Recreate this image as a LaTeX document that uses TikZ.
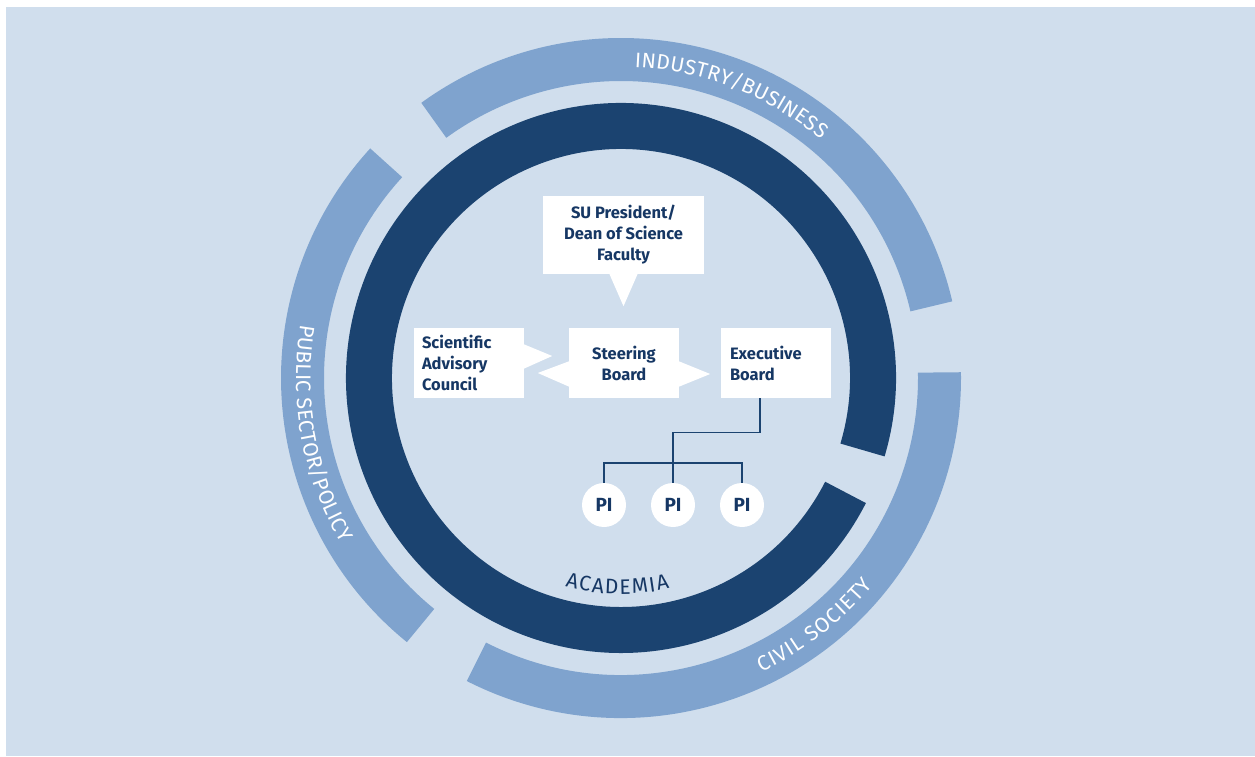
\documentclass[tikz,border=0pt]{standalone}
\usepackage{fontspec}
\setmainfont{Fira Sans}
\usetikzlibrary{decorations.text,calc}
\definecolor{bgblue}{RGB}{208,222,237}
\definecolor{lightarc}{RGB}{127,163,206}
\definecolor{darkring}{RGB}{27,67,112}
\definecolor{navytext}{RGB}{22,55,100}
\newcommand\myarcfont{\fontsize{21}{21}\selectfont}
\begin{document}
\begin{tikzpicture}[x=1pt,y=1pt,
  box/.style={fill=white, inner sep=0pt, minimum width=110pt, minimum height=70pt,
    font=\fontsize{16.5}{21}\selectfont\bfseries, text=navytext},
  pinode/.style={circle, fill=white, minimum size=44pt, inner sep=0pt,
    font=\fontsize{19}{19}\selectfont\bfseries, text=navytext},
  conn/.style={draw=darkring, line width=1.4pt},
  outerarc/.style={draw=lightarc, line width=43pt},
  innerring/.style={draw=darkring, line width=46pt},
  arctext/.style={decorate, decoration={text along path, text align={fit to path}}},
  pointer/.style={fill=white}
]
\useasboundingbox (0,0) rectangle (1255,756);
\fill[bgblue] (6,0) rectangle (1255,749);
\coordinate (C) at (621,378);
% outer light arcs
\draw[outerarc] ([shift={(13:318.5)}]C) arc[start angle=13, end angle=126, radius=318.5];
\draw[outerarc] ([shift={(137.5:318.5)}]C) arc[start angle=137.5, end angle=231, radius=318.5];
\draw[outerarc] ([shift={(-117:318.5)}]C) arc[start angle=-117, end angle=1, radius=318.5];
% dark ring
\draw[innerring] ([shift={(-16.6:252)}]C) arc[start angle=-16.6, end angle=333, radius=252];
% arc texts
\path[arctext, decoration={text={|\myarcfont\color{white}|INDUSTRY/BUSINESS}}]
  ([shift={(87.5:311)}]C) arc[start angle=87.5, end angle=50, radius=311];
\path[arctext, decoration={text={|\myarcfont\color{white}|PUBLIC SECTOR/POLICY}}]
  ([shift={(170.5:325)}]C) arc[start angle=170.5, end angle=210.5, radius=325];
\path[arctext, decoration={text={|\myarcfont\color{white}|CIVIL SOCIETY}}]
  ([shift={(-64.5:326)}]C) arc[start angle=-64.5, end angle=-39.5, radius=326];
\path[arctext, decoration={text={|\myarcfont\color{navytext}|ACADEMIA}}]
  ([shift={(-105:216)}]C) arc[start angle=-105, end angle=-77, radius=216];
% boxes
\node[box, minimum width=161pt, minimum height=78pt, align=center] (pres) at (623.5,521)
  {SU President/\\Dean of Science\\Faculty};
\node[box, text width=94pt, inner xsep=8pt, align=left] (sac) at (469,393)
  {Scientific\\Advisory\\Council};
\node[box, align=center] (steer) at (624,393) {Steering\\Board};
\node[box, text width=92pt, inner xsep=9pt, align=left] (exec) at (776,393)
  {Executive\\Board};
% pointers
\fill[pointer] ($(pres.south)+(-14,0)$) -- ($(pres.south)+(0,-32)$) -- ($(pres.south)+(14,0)$) -- cycle;
\fill[pointer] ($(sac.east)+(-1,19)$) -- ($(sac.east)+(28,7)$) -- ($(sac.east)+(-1,-6)$) -- cycle;
\fill[pointer] ($(steer.west)+(1,2)$) -- ($(steer.west)+(-31,-10)$) -- ($(steer.west)+(1,-24)$) -- cycle;
\fill[pointer] ($(steer.east)+(-1,2)$) -- ($(steer.east)+(31,-11)$) -- ($(steer.east)+(-1,-24)$) -- cycle;
% PI nodes
\node[pinode] (pi1) at (604,251) {PI};
\node[pinode] (pi2) at (673,251) {PI};
\node[pinode] (pi3) at (742,251) {PI};
% connectors
\draw[conn] ([xshift=-16pt]exec.south) -- ++(0,-34) -| (pi2.north);
\draw[conn] (pi1.north) -- ++(0,20) -| (pi3.north);
\end{tikzpicture}
\end{document}
